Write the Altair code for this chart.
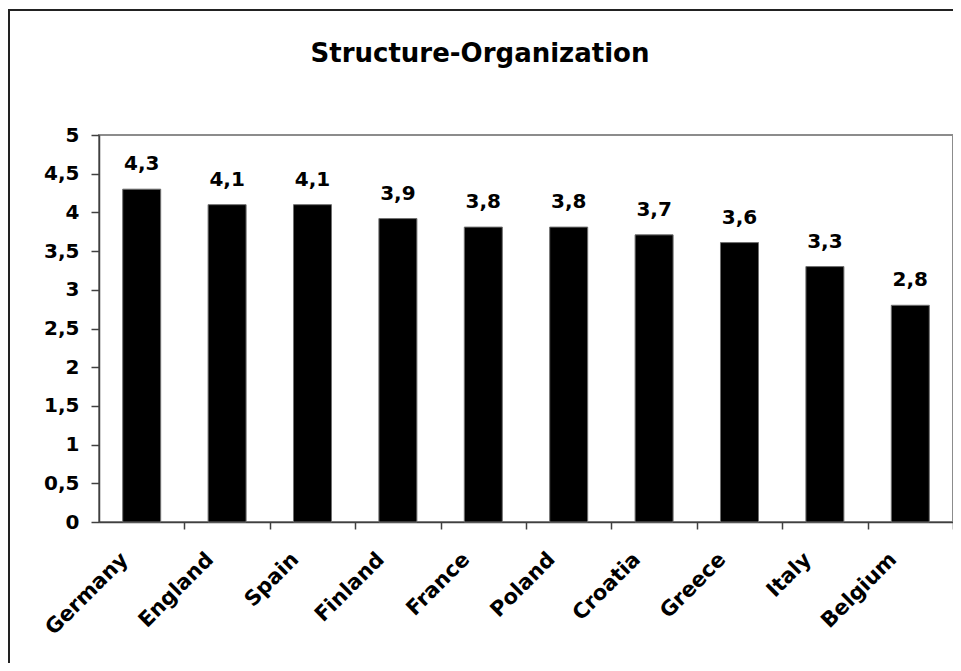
import altair as alt
import pandas as pd

countries = ["Germany", "England", "Spain", "Finland", "France",
             "Poland", "Croatia", "Greece", "Italy", "Belgium"]
values = [4.30, 4.10, 4.10, 3.92, 3.81, 3.81, 3.71, 3.61, 3.30, 2.80]
y_ticks = [0, 0.5, 1, 1.5, 2, 2.5, 3, 3.5, 4, 4.5, 5]
title_text = "Structure-Organization"

FONT = "DejaVu Sans"
W, H = 854, 387
PAD_L, PAD_T, PAD_R, PAD_B = 91, 127, 0, 141
P_IN = 0.555
STEP = W / len(countries)
BANDW = STEP * (1 - P_IN)
HALF_GAP = STEP * P_IN / 2

df = pd.DataFrame({"country": countries, "value": values})

x_enc = alt.X(
    "country:N",
    sort=countries,
    scale=alt.Scale(paddingInner=P_IN, paddingOuter=P_IN / 2),
    axis=alt.Axis(
        title=None,
        bandPosition=1,
        tickOffset=HALF_GAP,
        labelAngle=-45,
        labelAlign="right",
        labelBaseline="middle",
        labelOffset=-(BANDW / 2) - 22,
        labelPadding=27,
        labelFont=FONT,
        labelFontSize=21,
        labelFontWeight="bold",
        labelColor="black",
        labelOverlap=False,
        tickSize=7,
        tickColor="#404040",
        tickWidth=1.5,
        domainColor="#404040",
        domainWidth=1.5,
        grid=False,
    ),
)

y_enc = alt.Y(
    "value:Q",
    scale=alt.Scale(domain=[0, 5], nice=False),
    axis=alt.Axis(
        title=None,
        values=y_ticks,
        tickCount=len(y_ticks) + 2,
        labelExpr="replace(format(datum.value, '.1~f'), '.', ',')",
        labelFont=FONT,
        labelFontSize=20,
        labelFontWeight="bold",
        labelColor="black",
        labelOverlap=False,
        labelPadding=12,
        tickSize=8,
        tickColor="#404040",
        tickWidth=1.5,
        domainColor="#404040",
        domainWidth=1.5,
        grid=False,
    ),
)

base = alt.Chart(df)

bars = base.mark_bar(color="black", stroke="#707070", strokeWidth=1).encode(
    x=x_enc, y=y_enc
)

labels = base.transform_calculate(
    lbl="replace(format(datum.value, '.1f'), '.', ',')"
).mark_text(
    font=FONT, fontSize=20, fontWeight="bold", color="black",
    baseline="alphabetic", dy=-19,
).encode(
    x=alt.X("country:N", sort=countries),
    y=y_enc,
    text="lbl:N",
)

frame = alt.Chart(pd.DataFrame({"f": [0]})).mark_rect(
    fillOpacity=0, stroke="#222222", strokeWidth=2
).encode(
    x=alt.value(-PAD_L + 1),
    x2=alt.value(W + 40),
    y=alt.value(-PAD_T + 2),
    y2=alt.value(H + PAD_B + 40),
)

title = alt.Chart(pd.DataFrame({"t": [title_text]})).mark_text(
    font=FONT, fontSize=26, fontWeight="bold", color="black",
    align="center", baseline="alphabetic",
).encode(
    text="t:N",
    x=alt.value(W / 2 - 46),
    y=alt.value(-73),
)

chart = alt.layer(frame, title, bars, labels).properties(
    width=W,
    height=H,
    autosize=alt.AutoSizeParams(type="none"),
    padding={"left": PAD_L, "top": PAD_T, "right": PAD_R, "bottom": PAD_B},
).configure_view(
    stroke="#8c8c8c", strokeWidth=2
)

chart.save("out.html", embed_options={"renderer": "svg", "actions": False})
